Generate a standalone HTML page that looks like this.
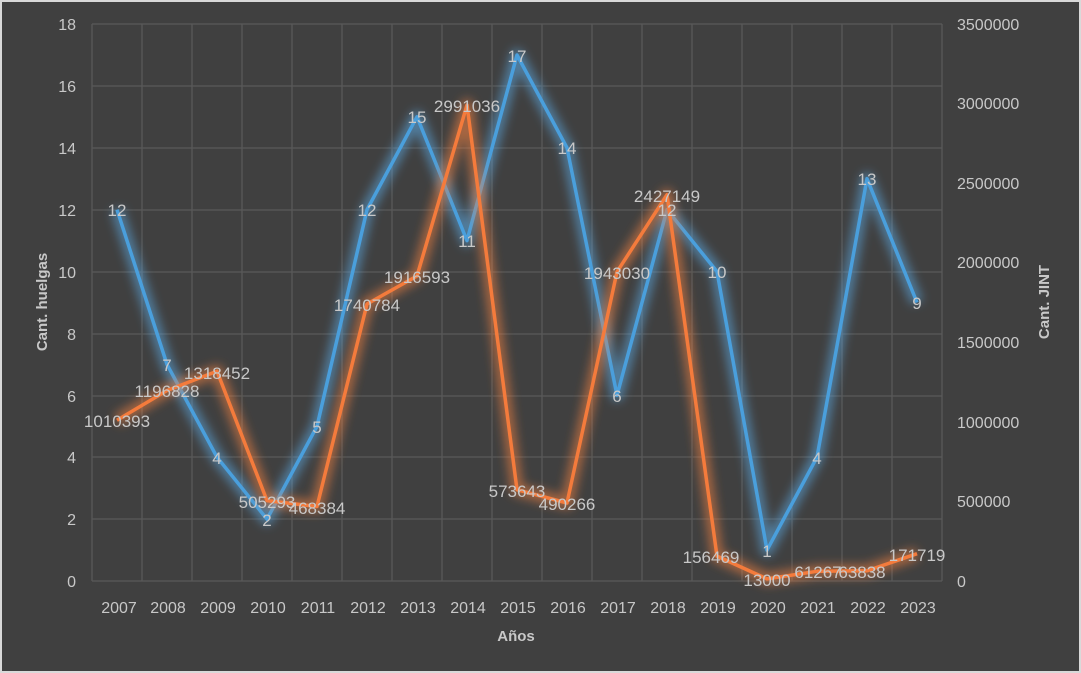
<!DOCTYPE html><html><head><style>body{margin:0;background:#fff}svg{display:block}text{font-family:"Liberation Sans",sans-serif;fill:#c8c8c8}</style></head><body>
<svg width="1081" height="673" xmlns="http://www.w3.org/2000/svg">
<defs><filter id="g" x="-10%" y="-10%" width="120%" height="120%"><feGaussianBlur stdDeviation="5"/></filter></defs>
<rect x="0" y="0" width="1081" height="673" fill="#d9d9d9"/>
<rect x="2" y="2" width="1077" height="669" fill="#404040"/>
<g stroke="#595959" stroke-width="1.3">
<line x1="92" y1="24" x2="942" y2="24"/><line x1="92" y1="86" x2="942" y2="86"/><line x1="92" y1="148" x2="942" y2="148"/><line x1="92" y1="210" x2="942" y2="210"/><line x1="92" y1="272" x2="942" y2="272"/><line x1="92" y1="334" x2="942" y2="334"/><line x1="92" y1="396" x2="942" y2="396"/><line x1="92" y1="457" x2="942" y2="457"/><line x1="92" y1="519" x2="942" y2="519"/><line x1="92" y1="581" x2="942" y2="581"/>
<line x1="92" y1="24" x2="92" y2="581"/><line x1="142" y1="24" x2="142" y2="581"/><line x1="192" y1="24" x2="192" y2="581"/><line x1="242" y1="24" x2="242" y2="581"/><line x1="292" y1="24" x2="292" y2="581"/><line x1="342" y1="24" x2="342" y2="581"/><line x1="392" y1="24" x2="392" y2="581"/><line x1="442" y1="24" x2="442" y2="581"/><line x1="492" y1="24" x2="492" y2="581"/><line x1="542" y1="24" x2="542" y2="581"/><line x1="592" y1="24" x2="592" y2="581"/><line x1="642" y1="24" x2="642" y2="581"/><line x1="692" y1="24" x2="692" y2="581"/><line x1="742" y1="24" x2="742" y2="581"/><line x1="792" y1="24" x2="792" y2="581"/><line x1="842" y1="24" x2="842" y2="581"/><line x1="892" y1="24" x2="892" y2="581"/><line x1="942" y1="24" x2="942" y2="581"/>
</g>
<g font-size="16" text-anchor="end">
<text x="76" y="30">18</text><text x="76" y="92">16</text><text x="76" y="154">14</text><text x="76" y="216">12</text><text x="76" y="278">10</text><text x="76" y="340">8</text><text x="76" y="402">6</text><text x="76" y="463">4</text><text x="76" y="525">2</text><text x="76" y="587">0</text>
</g>
<g font-size="16" text-anchor="start">
<text x="957" y="30">3500000</text><text x="957" y="109">3000000</text><text x="957" y="189">2500000</text><text x="957" y="268">2000000</text><text x="957" y="348">1500000</text><text x="957" y="428">1000000</text><text x="957" y="507">500000</text><text x="957" y="587">0</text>
</g>
<g font-size="16" text-anchor="middle">
<text x="119" y="613">2007</text><text x="168" y="613">2008</text><text x="218" y="613">2009</text><text x="268" y="613">2010</text><text x="318" y="613">2011</text><text x="368" y="613">2012</text><text x="418" y="613">2013</text><text x="468" y="613">2014</text><text x="518" y="613">2015</text><text x="568" y="613">2016</text><text x="618" y="613">2017</text><text x="668" y="613">2018</text><text x="718" y="613">2019</text><text x="768" y="613">2020</text><text x="818" y="613">2021</text><text x="868" y="613">2022</text><text x="918" y="613">2023</text>
</g>
<text x="516" y="641" font-size="15" font-weight="bold" text-anchor="middle" fill="#bfbfbf">Años</text>
<text transform="translate(47,302) rotate(-90)" font-size="15" font-weight="bold" text-anchor="middle">Cant. huelgas</text>
<text transform="translate(1049,302) rotate(-90)" font-size="15" font-weight="bold" text-anchor="middle">Cant. JINT</text>
<g fill="none" stroke-linejoin="round">
<polyline filter="url(#g)" stroke="#5ba7e0" stroke-opacity="0.6" stroke-width="12" points="117,209.7 167,364.4 217,457.2 267,519.1 317,426.3 367,209.7 417,116.8 467,240.6 517,55 567,147.8 617,395.3 667,209.7 717,271.6 767,550.1 817,457.2 867,178.7 917,302.5"/>
<polyline stroke="#4a9fdc" stroke-width="3.5" points="117,209.7 167,364.4 217,457.2 267,519.1 317,426.3 367,209.7 417,116.8 467,240.6 517,55 567,147.8 617,395.3 667,209.7 717,271.6 767,550.1 817,457.2 867,178.7 917,302.5"/>
<polyline filter="url(#g)" stroke="#f08040" stroke-opacity="0.6" stroke-width="12" points="117,420.2 167,390.5 217,371.2 267,500.6 317,506.5 367,304 417,276 467,105 517,489.7 567,503 617,271.8 667,194.7 717,556.1 767,578.9 817,571.3 867,570.8 917,553.7"/>
<polyline stroke="#f47b3c" stroke-width="3.5" points="117,420.2 167,390.5 217,371.2 267,500.6 317,506.5 367,304 417,276 467,105 517,489.7 567,503 617,271.8 667,194.7 717,556.1 767,578.9 817,571.3 867,570.8 917,553.7"/>
</g>
<g font-size="17" text-anchor="middle" fill="#d0d0d0">
<text x="117" y="216">12</text><text x="167" y="371">7</text><text x="217" y="464">4</text><text x="267" y="526">2</text><text x="317" y="433">5</text><text x="367" y="216">12</text><text x="417" y="123">15</text><text x="467" y="247">11</text><text x="517" y="62">17</text><text x="567" y="154">14</text><text x="617" y="402">6</text><text x="667" y="216">12</text><text x="717" y="278">10</text><text x="767" y="557">1</text><text x="817" y="464">4</text><text x="867" y="185">13</text><text x="917" y="309">9</text>
<text x="117" y="427">1010393</text><text x="167" y="397">1196828</text><text x="217" y="379">1318452</text><text x="267" y="508">505293</text><text x="317" y="514">468384</text><text x="367" y="311">1740784</text><text x="417" y="283">1916593</text><text x="467" y="112">2991036</text><text x="517" y="497">573643</text><text x="567" y="510">490266</text><text x="617" y="279">1943030</text><text x="667" y="202">2427149</text><text x="711" y="563">156469</text><text x="767" y="586">13000</text><text x="818" y="578">61267</text><text x="862" y="578">63838</text><text x="917" y="561">171719</text>
</g>
</svg></body></html>
